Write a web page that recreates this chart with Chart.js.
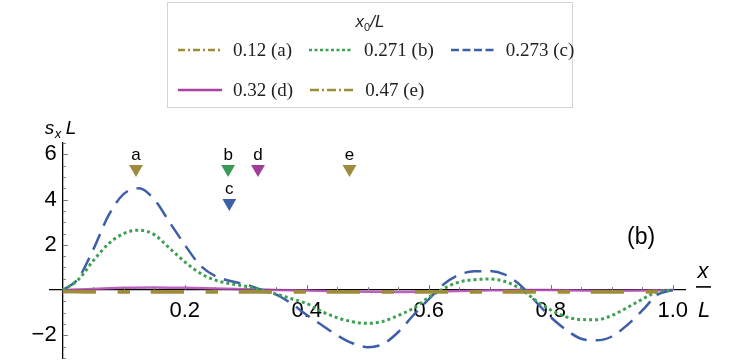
<!DOCTYPE html>
<html>
<head>
<meta charset="utf-8">
<script src="https://cdn.jsdelivr.net/npm/chart.js@4.4.1/dist/chart.umd.min.js"></script>
<style>
  html, body { margin: 0; padding: 0; background: #fff; overflow: hidden; }
  #wrap { position: relative; width: 747px; height: 361px; overflow: hidden; }
  #legend {
    position: absolute; left: 167px; top: 2px; width: 406px; height: 106px;
    border: 1px solid #d4d4d4; box-sizing: border-box;
    font-family: 'Liberation Serif', serif; font-size: 19px; color: #222;
  }
  #legend .title {
    position: absolute; left: 0; right: 0; top: 9px; text-align: center;
    font-family: 'Liberation Sans', sans-serif; font-style: italic; font-size: 17px;
  }
  #legend .title sub { font-size: 11px; font-style: normal; }
  #legend .row { position: absolute; left: 10px; display: flex; align-items: center; height: 24px; white-space: nowrap; }
  #legend .item { display: flex; align-items: center; margin-right: 17px; white-space: nowrap; }
  #legend svg { margin-right: 11px; flex: none; }
</style>
</head>
<body>
<div id="wrap">
  <!-- a few px taller than the window: Chart.js keeps a label pad at the bottom -->
  <canvas id="chart" width="747" height="366"></canvas>
  <div id="legend">
    <div class="title"><i>x</i><sub>0</sub>/<i>L</i></div>
    <div class="row" id="row1" style="top:35px"></div>
    <div class="row" id="row2" style="top:75px"></div>
  </div>
</div>
<script>
// sample positions along x/L
const X_GRID = [0, 0.025, 0.05, 0.075, 0.1, 0.125, 0.15, 0.175, 0.2, 0.225,
  0.25, 0.275, 0.3, 0.325, 0.35, 0.375, 0.4, 0.425, 0.45, 0.475,
  0.5, 0.525, 0.55, 0.575, 0.6, 0.625, 0.65, 0.675, 0.7, 0.725,
  0.75, 0.775, 0.8, 0.825, 0.85, 0.875, 0.9, 0.925, 0.95, 0.975, 1.0];
const X_COARSE = [0, 0.05, 0.1, 0.15, 0.2, 0.25, 0.3, 0.35, 0.4, 0.45,
  0.5, 0.55, 0.6, 0.65, 0.7, 0.75, 0.8, 0.85, 0.9, 0.95, 1.0];

// s_x L for each x0/L
const SERIES_B = [0, 0.45, 1.3, 2.05, 2.5, 2.65, 2.45, 1.85, 1.25, 0.75,
  0.44, 0.28, 0.17, 0.0, -0.18, -0.38, -0.6, -0.95, -1.22, -1.4,
  -1.47, -1.38, -1.12, -0.8, -0.32, 0.08, 0.36, 0.46, 0.49, 0.38,
  0.06, -0.45, -0.88, -1.18, -1.3, -1.31, -1.12, -0.78, -0.4, -0.08, 0];
const SERIES_C = [0, 0.5, 1.8, 3.3, 4.25, 4.5, 4.0, 3.0, 2.0, 1.1,
  0.62, 0.4, 0.25, 0.02, -0.2, -0.6, -1.1, -1.55, -2.0, -2.35,
  -2.52, -2.38, -1.85, -1.1, -0.4, 0.27, 0.68, 0.83, 0.84, 0.68,
  0.22, -0.5, -1.2, -1.75, -2.15, -2.22, -2.05, -1.55, -0.9, -0.2, 0];
const SERIES_D = [0, 0.05, 0.1, 0.12, 0.1, 0.07, 0.04, 0.01, -0.02, -0.05,
  -0.07, -0.08, -0.07, -0.04, -0.01, 0.01, 0, -0.02, -0.03, -0.02, 0];
const SERIES_A = [-0.06, -0.07, -0.07, -0.07, -0.07, -0.07, -0.07, -0.07, -0.07, -0.07,
  -0.07, -0.07, -0.07, -0.07, -0.07, -0.07, -0.07, -0.07, -0.07, -0.07, -0.06];
const SERIES_E = [-0.06, -0.07, -0.07, -0.07, -0.07, -0.07, -0.07, -0.07, -0.07, -0.07,
  -0.07, -0.07, -0.07, -0.07, -0.07, -0.07, -0.07, -0.07, -0.07, -0.07, -0.06];

const SERIES_LABELS = ['0.12 (a)', '0.271 (b)', '0.273 (c)', '0.32 (d)', '0.47 (e)'];

// source positions marked by triangles
const MARKER_X = [0.12, 0.271, 0.273, 0.32, 0.47];
const MARKER_Y = [5.35, 5.35, 3.85, 5.35, 5.35];
const MARKER_TEXT = ['a', 'b', 'c', 'd', 'e'];

const X_TICKS = [0.2, 0.4, 0.6, 0.8, 1.0];
const Y_TICKS = [-2, 2, 4, 6];

const OLIVE = '#9c8c3c';
const GREEN = '#3ea052';
const BLUE = '#3d5ea8';
const MAGENTA = '#a8409f';
const MARKER_COLORS = [OLIVE, '#3a9a5a', BLUE, '#a03c9a', OLIVE];

const toPoints = (xs, ys) => xs.map((x, i) => ({ x, y: ys[i] }));

const datasets = [
  { label: SERIES_LABELS[0], data: toPoints(X_COARSE, SERIES_A), borderColor: OLIVE,
    borderWidth: 3.5, borderDash: [33, 22, 12, 21], legendDash: '7 3 2 3' },
  { label: SERIES_LABELS[1], data: toPoints(X_GRID, SERIES_B), borderColor: GREEN,
    borderWidth: 3, borderDash: [3, 3], legendDash: '3 2.5' },
  { label: SERIES_LABELS[2], data: toPoints(X_GRID, SERIES_C), borderColor: BLUE,
    borderWidth: 2.5, borderDash: [17, 9], legendDash: '8 3.5' },
  { label: SERIES_LABELS[3], data: toPoints(X_COARSE, SERIES_D), borderColor: 'rgba(176,70,176,0.85)',
    borderWidth: 2.5, legendColor: MAGENTA, legendDash: '' },
  { label: SERIES_LABELS[4], data: toPoints(X_COARSE, SERIES_E), borderColor: OLIVE,
    borderWidth: 3.5, borderDash: [33, 22, 12, 21], legendDash: '9 3 2 3' }
].map(d => Object.assign({ type: 'line', pointRadius: 0, fill: false, cubicInterpolationMode: 'monotone' }, d));

datasets.push({
  type: 'scatter', label: 'markers', data: toPoints(MARKER_X, MARKER_Y),
  pointStyle: 'triangle', rotation: 180, pointRadius: 8,
  backgroundColor: MARKER_COLORS, borderWidth: 0, clip: false
});

// HTML legend built from the line datasets
function buildLegend() {
  datasets.slice(0, 5).forEach((d, i) => {
    const row = document.getElementById(i < 3 ? 'row1' : 'row2');
    const item = document.createElement('div');
    item.className = 'item';
    const col = d.legendColor || d.borderColor;
    item.innerHTML = '<svg width="44" height="8"><line x1="0" y1="4" x2="44" y2="4" stroke="' + col +
      '" stroke-width="2.6" stroke-dasharray="' + d.legendDash + '"/></svg><span>' + d.label + '</span>';
    row.appendChild(item);
  });
}
buildLegend();

// trailing space keeps the labels clear of the axis line
const fmtY = v => (v < 0 ? '\u2212' + Math.abs(v) : String(v)) + ' ';

const axisDecor = {
  id: 'axisDecor',
  afterDatasetsDraw(chart) {
    const { ctx, chartArea, scales: { x, y } } = chart;
    const x0 = x.getPixelForValue(0);
    const y0 = y.getPixelForValue(0);
    ctx.save();
    ctx.strokeStyle = '#777';
    ctx.lineWidth = 1;
    // x ticks point up
    for (let k = 1; k <= 20; k++) {
      const v = k * 0.05;
      const major = X_TICKS.some(t => Math.abs(t - v) < 1e-6);
      const px = Math.round(x.getPixelForValue(v)) + 0.5;
      ctx.beginPath();
      ctx.moveTo(px, y0);
      ctx.lineTo(px, y0 - (major ? 5 : 3));
      ctx.stroke();
    }
    // y ticks point right
    for (let k = -6; k <= 13; k++) {
      const v = k * 0.5;
      if (v === 0) continue;
      const major = Y_TICKS.includes(v);
      const py = Math.round(y.getPixelForValue(v)) + 0.5;
      ctx.beginPath();
      ctx.moveTo(x0, py);
      ctx.lineTo(x0 + (major ? 5 : 3), py);
      ctx.stroke();
    }

    // marker letters
    const meta = chart.getDatasetMeta(5);
    ctx.fillStyle = '#000';
    ctx.font = '17px "Liberation Sans", sans-serif';
    ctx.textAlign = 'center';
    ctx.textBaseline = 'alphabetic';
    meta.data.forEach((pt, i) => ctx.fillText(MARKER_TEXT[i], pt.x, pt.y - 9));

    // panel tag
    ctx.font = '23px "Liberation Sans", sans-serif';
    ctx.textBaseline = 'middle';
    ctx.fillText('(b)', x.getPixelForValue(0.948), y.getPixelForValue(2.3));

    // axis titles
    ctx.font = 'italic 22px "Liberation Sans", sans-serif';
    ctx.textBaseline = 'alphabetic';
    const fx = chartArea.right + 18;
    ctx.fillText('x', fx, y0 - 12);
    ctx.fillText('L', fx + 1, y0 + 27);
    ctx.fillStyle = '#000';
    ctx.fillRect(fx - 7, y0 - 4, 15, 1.6);

    ctx.textAlign = 'left';
    ctx.font = 'italic 19px "Liberation Sans", sans-serif';
    ctx.fillText('s', x0 - 18, chartArea.top - 9);
    ctx.font = 'italic 13px "Liberation Sans", sans-serif';
    ctx.fillText('x', x0 - 8, chartArea.top - 5);
    ctx.font = 'italic 19px "Liberation Sans", sans-serif';
    ctx.fillText('L', x0 + 3, chartArea.top - 9);
    ctx.restore();
  }
};

new Chart(document.getElementById('chart'), {
  data: { datasets },
  options: {
    responsive: false,
    animation: false,
    devicePixelRatio: 1,
    layout: { padding: { left: 50, right: 62, top: 143, bottom: 3 } },
    plugins: { legend: { display: false }, tooltip: { enabled: false } },
    scales: {
      x: {
        type: 'linear', min: -0.021, max: 1.02, position: { y: 0 }, z: 1,
        afterBuildTicks: s => { s.ticks = X_TICKS.map(v => ({ value: v })); },
        grid: { drawOnChartArea: false, drawTicks: false },
        border: { color: '#000', width: 1.3 },
        ticks: { color: '#000', padding: 8, maxRotation: 0, autoSkip: false,
          font: { family: 'Liberation Sans', size: 22 }, callback: v => v.toFixed(1) }
      },
      y: {
        type: 'linear', min: -3.0, max: 6.5, position: { x: 0 }, z: 1,
        afterBuildTicks: s => { s.ticks = Y_TICKS.map(v => ({ value: v })); },
        grid: { drawOnChartArea: false, drawTicks: false },
        border: { color: '#000', width: 1.3 },
        ticks: { color: '#000', padding: 0, autoSkip: false,
          font: { family: 'Liberation Sans', size: 22, lineHeight: 0.05 }, callback: fmtY }
      }
    }
  },
  plugins: [axisDecor]
});
</script>
</body>
</html>
